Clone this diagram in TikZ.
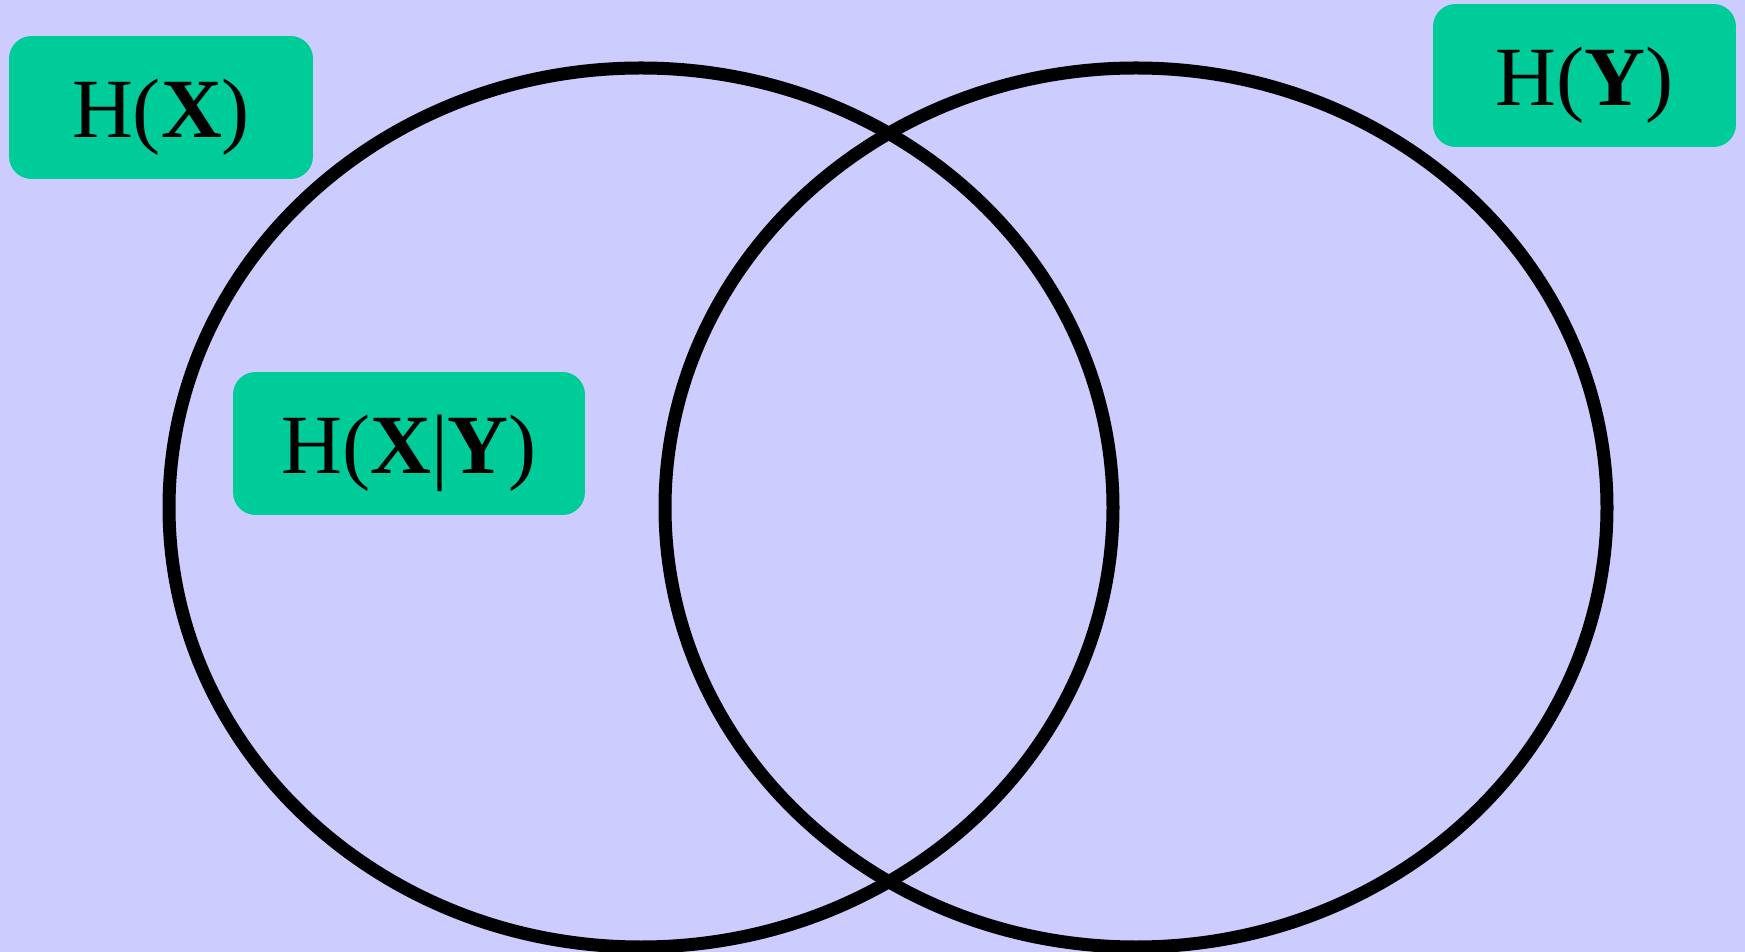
\documentclass[tikz,border=0pt]{standalone}
\usepackage{fontspec}
\setmainfont{Liberation Serif}
\usetikzlibrary{positioning}

\definecolor{bgblue}{HTML}{CCCCFF}
\definecolor{boxgreen}{HTML}{00CC99}

\begin{document}
\begin{tikzpicture}[
    x=0.02cm, y=-0.02cm,
    font=\fontsize{48}{56}\selectfont,
    set/.style={draw, line width=7.4pt},
    label/.style={fill=boxgreen, rounded corners=0.45cm, inner sep=0pt, align=center,
      text height=34.6pt, text depth=0pt, minimum height=2.86cm}
  ]
    \fill[bgblue] (0,0) rectangle (1745,952);
    \useasboundingbox (0,0) rectangle (1745,952);
    \draw[set] (641,507.5) ellipse [x radius=472, y radius=439.5];
    \draw[set] (1136,507.5) ellipse [x radius=471, y radius=439.5];
    \node[label, minimum width=6.08cm] (hx) at (161,107.5) {H(\textbf{X})};
    \node[label, minimum width=6.06cm] (hy) at (1584.5,75.5) {H(\textbf{Y})};
    \node[label, minimum width=7.04cm] (hxy) at (409,443.5) {H(\textbf{X}|\textbf{Y})};
  \end{tikzpicture}
\end{document}
